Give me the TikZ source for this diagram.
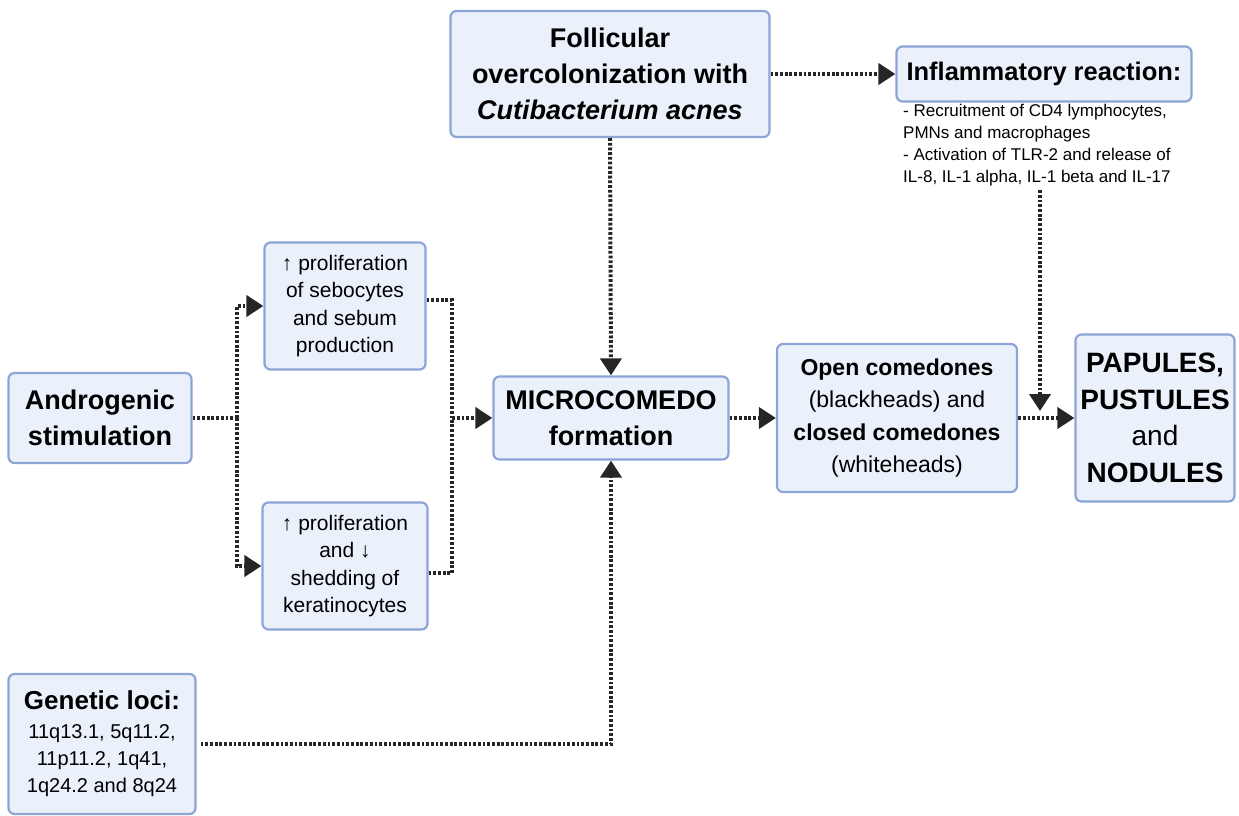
\documentclass[tikz,border=0pt]{standalone}
\usepackage{fontspec}
\setmainfont{Liberation Sans}
\usetikzlibrary{arrows.meta,calc}

\definecolor{boxfill}{RGB}{234,241,251}
\definecolor{boxline}{RGB}{140,164,214}

\tikzset{
  box/.style={draw=boxline, fill=boxfill, line width=2.2pt,
              rounded corners=6pt, align=center, inner sep=3pt},
  plain/.style={line width=4pt, dash pattern=on 2.8pt off 1.9pt, draw=black!85},
  link/.style={plain, -{Triangle[length=17pt,width=21pt]}},
  headtxt/.style={font=\bfseries\fontsize{27}{36}\selectfont},
  bodytxt/.style={font=\fontsize{21}{27.5}\selectfont}
}

\begin{document}
\begin{tikzpicture}[x=1pt,y=-1pt]
    \useasboundingbox (0,0) rectangle (1239,816);

    % Boxes
    \node[box, headtxt, minimum width=319pt, minimum height=126pt] (foll) at (610,74)
        {Follicular\\overcolonization with\\\textit{Cutibacterium acnes}};
    \node[box, minimum width=295pt, minimum height=55pt,
          font=\bfseries\fontsize{25.5}{30}\selectfont] (infl) at (1044,74) {Inflammatory reaction:};
    \node[anchor=north west, align=left, inner sep=0pt,
          font=\fontsize{17}{22}\selectfont] (infltxt) at (903,104)
        {- Recruitment of CD4 lymphocytes,\\PMNs and macrophages\\- Activation of TLR-2 and release of\\IL-8, IL-1 alpha, IL-1 beta and IL-17};

    \node[box, headtxt, minimum width=183pt, minimum height=90pt] (andro) at (100,418)
        {Androgenic\\stimulation};
    \node[box, bodytxt, minimum width=161pt, minimum height=127pt] (sebo) at (345,306)
        {↑ proliferation\\of sebocytes\\and sebum\\production};
    \node[box, bodytxt, minimum width=165pt, minimum height=127pt] (kera) at (345,566)
        {↑ proliferation\\and ↓\\shedding of\\keratinocytes};
    \node[box, headtxt, minimum width=235pt, minimum height=83pt] (micro) at (611,418)
        {MICROCOMEDO\\formation};
    \node[box, minimum width=240pt, minimum height=148pt,
          font=\fontsize{23}{32.5}\selectfont] (open) at (897,418)
        {\textbf{Open comedones}\\(blackheads) and\\\textbf{closed comedones}\\(whiteheads)};
    \node[box, minimum width=159pt, minimum height=167pt,
          font=\fontsize{28}{36.5}\selectfont] (pap) at (1155,418)
        {\textbf{PAPULES,}\\\textbf{PUSTULES}\\and\\\textbf{NODULES}};
    \node[box, minimum width=187pt, minimum height=140pt,
          font=\fontsize{20}{27}\selectfont] (gen) at (102,744)
        {{\bfseries\fontsize{26}{30}\selectfont Genetic loci:}\\[2pt]11q13.1, 5q11.2,\\11p11.2, 1q41,\\1q24.2 and 8q24};

    % Connectors
    \coordinate (split) at (237,418);
    \coordinate (merge) at (452,418);
    \coordinate (inflend) at (1040,411);

    \draw[plain] (andro.east) -- (split);
    \draw[link] (split) |- (sebo.west);
    \draw[link] (split) |- (kera.west);

    \draw[plain] ($(sebo.east)+(0,-6)$) -| (merge);
    \draw[link] ($(kera.east)+(0,7)$) -| (merge) -- (micro.west);

    \draw[link] (foll.south) -- (micro.north);
    \draw[link] (foll.east) -- (infl.west);
    \draw[link] (infltxt.south -| inflend) ++(0,4) -- (inflend);

    \draw[link] (micro.east) -- (open.west);
    \draw[link] (open.east) -- (pap.west);

    \draw[link] ($(gen.east)+(4,0)$) -| (micro.south);
\end{tikzpicture}
\end{document}
